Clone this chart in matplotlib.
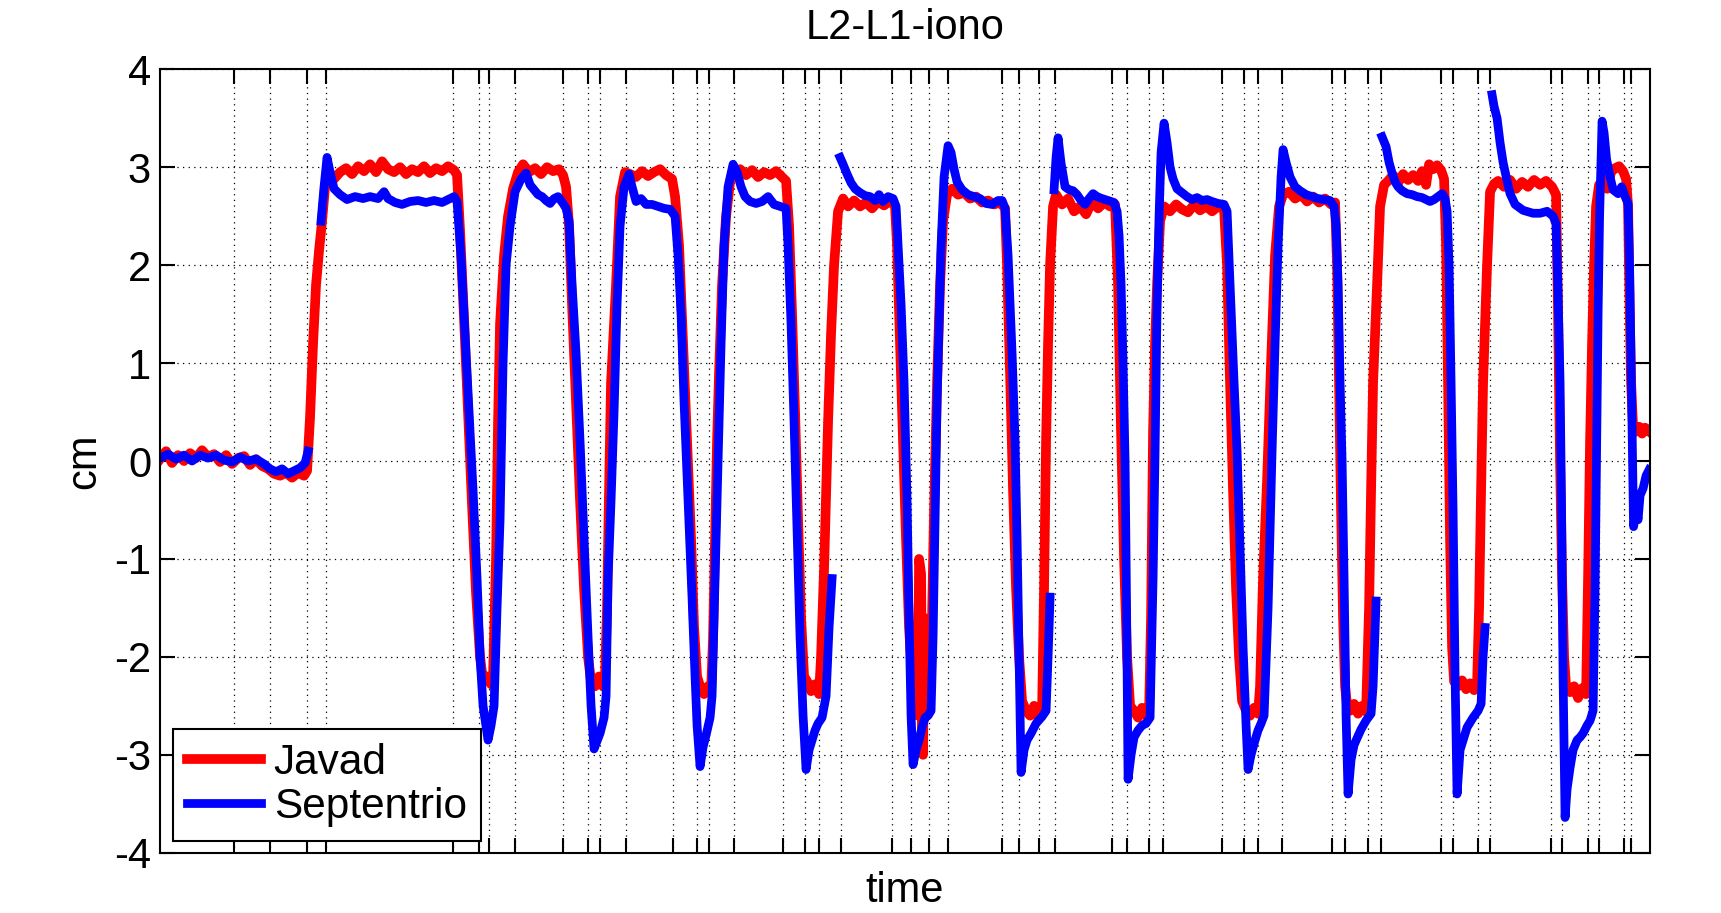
import numpy as np
import matplotlib
matplotlib.use("Agg")
import matplotlib.pyplot as plt

nan = np.nan

# instants where the antenna was moved (x ticks / vertical grid)
event_times = [74, 110, 147, 166, 293, 319, 329, 355, 403, 428, 440, 466,
               513, 537, 549, 574, 623, 645, 659, 681, 732, 751, 769, 788,
               842, 859, 879, 895, 952, 967, 989, 1003, 1062, 1084, 1098, 1122,
               1172, 1185, 1208, 1221, 1281, 1293, 1318, 1330, 1391, 1402, 1428, 1439,
               1464, 1471]

y_ticks = [-4, -3, -2, -1, 0, 1, 2, 3, 4]

# (time, cm)
javad = [
    (0, 0.02), (6, 0.10), (12, -0.02), (18, 0.06), (24, 0.0), (30, 0.08), (36, 0.03),
    (42, 0.11), (48, 0.04), (54, 0.07), (60, -0.01), (66, 0.06), (72, -0.03), (78, 0.03),
    (84, 0.05), (90, -0.04), (96, 0.02), (102, -0.05), (108, -0.08), (114, -0.13),
    (120, -0.15), (126, -0.12), (132, -0.17), (138, -0.12), (144, -0.15), (147, -0.1),
    (150, 0.45), (153, 1.2), (156, 1.8), (159, 2.15), (162, 2.45), (165, 2.8), (168, 2.97),
    (174, 2.88), (180, 2.95), (186, 2.99), (192, 2.93), (198, 3.01), (204, 2.96), (210, 3.03),
    (216, 2.95), (222, 3.06), (228, 2.98), (234, 2.95), (240, 3.0), (246, 2.93), (252, 2.98),
    (258, 2.95), (264, 3.01), (270, 2.94), (276, 2.99), (282, 2.96), (288, 3.01), (294, 2.97),
    (297, 2.92), (300, 2.35), (304, 1.45), (308, 0.5), (312, -0.45), (316, -1.35), (320, -2.0),
    (323, -2.25), (327, -2.2), (331, -2.28),
    (333, -2.2), (336, -1.0), (338, 0.4), (340, 1.4), (344, 2.1), (348, 2.5), (353, 2.78),
    (358, 2.95), (363, 3.03),
    (369, 2.95), (375, 2.99), (381, 2.93), (387, 3.0), (393, 2.96), (399, 2.98), (403, 2.92),
    (406, 2.8),
    (409, 2.4), (412, 1.6), (416, 0.6), (420, -0.4), (424, -1.3), (428, -2.0), (431, -2.25),
    (435, -2.3), (439, -2.2), (443, -2.3),
    (445, -2.2), (447, -1.5), (449, -0.3), (451, 0.8), (456, 1.8), (460, 2.7), (465, 2.95),
    (470, 2.93), (476, 2.9), (482, 2.96), (488, 2.91), (494, 2.95), (500, 2.98), (506, 2.92),
    (512, 2.88), (515, 2.7),
    (519, 2.2), (523, 1.2), (527, 0.2), (531, -0.8), (534, -1.7), (537, -2.2),
    (540, -2.3), (544, -2.38), (548, -2.3), (551, -2.36),
    (553, -1.8), (555, -0.8), (557, 0.2), (559, 0.9), (562, 1.8), (566, 2.5), (570, 2.85),
    (574, 2.95),
    (580, 2.98), (586, 2.92), (592, 2.97), (598, 2.9), (604, 2.95), (610, 2.92), (616, 2.96),
    (622, 2.9), (626, 2.86),
    (629, 2.4), (632, 1.5), (635, 0.5), (638, -0.6), (641, -1.6), (644, -2.2),
    (647, -2.25), (651, -2.35), (655, -2.28), (659, -2.38),
    (661, -2.0), (664, -1.1), (668, 0.4), (671, 1.3), (674, 2.0), (678, 2.55), (683, 2.68),
    (688, 2.6), (694, 2.66), (700, 2.6), (706, 2.64), (712, 2.58), (718, 2.65), (724, 2.61),
    (730, 2.66), (735, 2.6),
    (737, 2.2), (740, 1.2), (743, 0.2), (746, -0.8), (749, -1.7), (752, -2.2), (754, -2.4),
    (756, -2.45), (758, -2.6), (759, -1.0), (761, -1.15), (762, -2.9), (763, -3.0),
    (764, -1.6), (766, -2.4), (768, -2.5), (770, -2.35),
    (772, -1.6), (774, -0.5), (777, 0.8), (780, 1.8), (783, 2.45), (787, 2.72),
    (792, 2.78), (798, 2.72), (804, 2.74), (810, 2.68), (816, 2.7), (822, 2.64), (828, 2.66),
    (834, 2.62), (840, 2.64), (845, 2.58),
    (847, 2.0), (850, 0.9), (853, -0.3), (856, -1.3), (859, -2.0), (862, -2.45),
    (866, -2.55), (870, -2.6), (874, -2.5), (878, -2.62), (882, -2.55),
    (884, -1.3), (886, 0.2), (888, 1.2), (890, 2.0), (893, 2.6), (896, 2.72),
    (902, 2.62), (908, 2.68), (914, 2.55), (920, 2.6), (926, 2.52), (932, 2.65), (938, 2.58),
    (944, 2.64), (950, 2.6), (955, 2.62),
    (958, 1.8), (961, 0.3), (964, -1.0), (967, -2.0), (970, -2.5),
    (974, -2.55), (978, -2.62), (982, -2.52), (986, -2.6), (989, -2.55),
    (991, -1.6), (993, 0.3), (995, 1.2), (997, 1.8), (1000, 2.45), (1004, 2.6),
    (1010, 2.55), (1016, 2.62), (1022, 2.57), (1028, 2.54), (1034, 2.62), (1040, 2.56),
    (1046, 2.6), (1052, 2.55), (1058, 2.6), (1064, 2.57),
    (1067, 2.0), (1070, 0.8), (1073, -0.3), (1076, -1.3), (1079, -2.0), (1082, -2.45),
    (1086, -2.55), (1090, -2.6), (1094, -2.52), (1098, -2.58),
    (1100, -2.3), (1103, -1.2), (1107, -0.2), (1111, 1.0), (1115, 2.1), (1119, 2.6),
    (1123, 2.72),
    (1129, 2.75), (1135, 2.68), (1141, 2.72), (1147, 2.65), (1153, 2.7), (1159, 2.64),
    (1165, 2.68), (1171, 2.62), (1175, 2.64),
    (1177, 2.0), (1179, 0.8), (1181, -0.5), (1183, -1.6), (1185, -2.3), (1187, -2.5),
    (1190, -2.55), (1194, -2.48), (1198, -2.58), (1202, -2.5), (1206, -2.56),
    (1209, -1.5), (1211, -0.3), (1213, 0.8), (1217, 1.8), (1220, 2.6), (1224, 2.82),
    (1228, 2.86), (1233, 2.92), (1238, 2.84), (1243, 2.93), (1248, 2.87), (1253, 2.92),
    (1258, 2.86), (1262, 2.96), (1266, 2.82), (1269, 3.03), (1273, 2.98), (1277, 3.02),
    (1281, 2.97), (1284, 2.88),
    (1286, 2.2), (1288, 0.8), (1290, -0.8), (1292, -1.9), (1294, -2.25),
    (1298, -2.3), (1302, -2.24), (1306, -2.33), (1310, -2.27), (1314, -2.34), (1317, -2.28),
    (1319, -1.5), (1321, -0.3), (1323, 0.8), (1327, 2.0), (1330, 2.75), (1334, 2.83),
    (1338, 2.86), (1344, 2.8), (1350, 2.87), (1356, 2.78), (1362, 2.85), (1368, 2.8),
    (1374, 2.87), (1380, 2.82), (1386, 2.86), (1392, 2.8), (1396, 2.72),
    (1398, 1.5), (1400, 0.0), (1402, -1.2), (1404, -2.0), (1406, -2.3),
    (1410, -2.36), (1414, -2.3), (1418, -2.42), (1422, -2.32), (1426, -2.38),
    (1428, -1.2), (1430, 0.2), (1432, 1.2), (1434, 2.0), (1436, 2.6), (1439, 2.82),
    (1443, 2.86), (1447, 2.78), (1451, 2.95), (1455, 2.99), (1459, 3.01), (1463, 2.96),
    (1466, 2.88),
    (1468, 2.6), (1469.5, 1.6), (1471, 0.8), (1473, 0.35), (1476, 0.3), (1479, 0.35),
    (1482, 0.28), (1485, 0.34), (1489.5, 0.3),
]

septentrio = [
    (0, 0.03), (8, 0.07), (16, 0.02), (24, 0.06), (32, 0.0), (40, 0.06), (48, 0.03),
    (56, 0.06), (64, 0.01), (72, -0.01), (80, 0.04), (88, 0.0), (96, 0.02), (104, -0.03),
    (110, -0.08), (116, -0.11), (122, -0.08), (128, -0.13), (134, -0.1), (140, -0.07),
    (145, -0.02), (148, 0.1), (nan, nan),
    (161, 2.45), (164, 2.8), (167, 3.1), (170, 2.95), (174, 2.78), (180, 2.72), (187, 2.67),
    (195, 2.7), (203, 2.68), (210, 2.7), (218, 2.68), (224, 2.75), (228, 2.68), (235, 2.64),
    (242, 2.62), (250, 2.65), (258, 2.66), (266, 2.64), (274, 2.66), (282, 2.64), (290, 2.68),
    (294, 2.7),
    (297, 2.65), (301, 2.08), (305, 1.3), (309, 0.5), (313, -0.3), (317, -1.2), (320, -2.0),
    (323, -2.5), (328, -2.85), (331, -2.7), (334, -2.5),
    (337, -1.5), (340, -0.6), (343, 1.0), (346, 2.0), (350, 2.4), (355, 2.75), (361, 2.88),
    (366, 2.94),
    (370, 2.82), (374, 2.77), (378, 2.72), (382, 2.7), (386, 2.66), (390, 2.63), (394, 2.68),
    (398, 2.7), (403, 2.63), (406, 2.58), (409, 2.45),
    (412, 1.8), (416, 1.1), (420, 0.2), (424, -0.8), (428, -1.8), (431, -2.5), (434, -2.94),
    (437, -2.86), (440, -2.78), (444, -2.62), (446, -2.4),
    (448, -1.2), (451, -0.4), (454, 0.5), (457, 1.6), (460, 2.4), (464, 2.8), (469, 2.93),
    (472, 2.8), (476, 2.65), (481, 2.68), (486, 2.62), (492, 2.62), (498, 2.6), (504, 2.58),
    (510, 2.57), (515, 2.5),
    (518, 2.1), (521, 1.5), (524, 0.6), (528, -0.4), (532, -1.4), (535, -2.2), (537, -2.7),
    (540, -3.12), (543, -2.92), (546, -2.8), (550, -2.62), (552, -2.4),
    (555, -1.2), (558, 0.0), (561, 1.2), (564, 2.2), (568, 2.8), (573, 3.03),
    (577, 2.95), (581, 2.8), (585, 2.7), (590, 2.65), (596, 2.63), (602, 2.65), (608, 2.7),
    (614, 2.62), (620, 2.6), (626, 2.58),
    (628, 2.2), (631, 1.4), (634, 0.4), (637, -0.7), (640, -1.8), (643, -2.6), (646, -3.15),
    (649, -2.95), (652, -2.85), (655, -2.75), (658, -2.68), (662, -2.62), (666, -2.4),
    (669, -1.7), (672, -1.2), (nan, nan),
    (680, 3.1), (683, 3.03), (687, 2.93), (691, 2.84), (695, 2.78), (700, 2.74), (705, 2.71),
    (710, 2.7), (715, 2.66), (719, 2.72), (723, 2.65), (728, 2.7), (733, 2.68), (736, 2.6),
    (738, 2.2), (741, 1.6), (744, 0.8), (747, -0.4), (749, -1.6), (751, -2.6), (753, -3.1),
    (756, -2.95), (759, -2.85), (762, -2.72), (765, -2.62), (768, -2.6), (771, -2.55),
    (773, -1.8), (775, -0.6), (777, 0.6), (779, 1.4), (781, 2.2), (784, 2.9), (788, 3.22),
    (791, 3.15), (794, 2.98), (797, 2.85), (802, 2.77), (808, 2.72), (814, 2.7), (820, 2.68),
    (826, 2.63), (832, 2.62), (838, 2.66), (842, 2.66), (845, 2.58),
    (848, 2.1), (852, 1.1), (855, 0.2), (857, -0.8), (859, -2.0), (861, -3.18),
    (864, -2.95), (867, -2.85), (871, -2.78), (876, -2.68), (882, -2.61), (886, -2.55),
    (888, -2.0), (890, -1.39), (nan, nan),
    (894, 2.77), (896, 3.1), (898, 3.3), (901, 3.04), (905, 2.8), (909, 2.77), (913, 2.76),
    (917, 2.72), (921, 2.66), (925, 2.62), (929, 2.68), (933, 2.73), (937, 2.7), (942, 2.68),
    (948, 2.66), (954, 2.64), (957, 2.55),
    (959, 2.3), (961, 1.8), (963, 1.0), (965, 0.0), (966.5, -1.5), (968, -3.25),
    (971, -3.0), (974, -2.82), (978, -2.75), (982, -2.7), (986, -2.68), (990, -2.62),
    (993, -1.2), (995, 0.1), (997, 1.6), (999, 2.5), (1001, 3.15), (1004, 3.45),
    (1007, 3.25), (1010, 3.0), (1013, 2.88), (1017, 2.78), (1022, 2.74), (1027, 2.7),
    (1032, 2.67), (1037, 2.69), (1042, 2.66), (1047, 2.67), (1052, 2.65), (1058, 2.63),
    (1064, 2.62), (1067, 2.55),
    (1070, 1.8), (1074, 0.8), (1077, 0.1), (1080, -0.9), (1083, -1.9), (1086, -2.7),
    (1088, -3.15), (1091, -3.0), (1095, -2.85), (1098, -2.75), (1101, -2.68), (1104, -2.6),
    (1108, -1.5), (1112, 0.1), (1115, 1.2), (1118, 2.2), (1121, 2.9), (1123, 3.18),
    (1126, 3.05), (1130, 2.9), (1135, 2.8), (1140, 2.76), (1146, 2.72), (1152, 2.7),
    (1158, 2.68), (1164, 2.67), (1170, 2.66), (1174, 2.6),
    (1176, 2.4), (1178, 1.8), (1180, 0.8), (1182, 0.0), (1184, -1.2), (1186, -2.6),
    (1188, -3.4), (1191, -3.05), (1194, -2.9), (1197, -2.83), (1201, -2.74), (1206, -2.65),
    (1211, -2.58), (1213, -2.3), (1216, -1.43), (nan, nan),
    (1222, 3.31), (1226, 3.21), (1229, 3.05), (1232, 2.94), (1235, 2.85), (1238, 2.8),
    (1242, 2.76), (1247, 2.73), (1252, 2.72), (1257, 2.7), (1262, 2.69), (1266, 2.67),
    (1270, 2.65), (1274, 2.67), (1278, 2.7), (1282, 2.73), (1285, 2.68), (1287, 2.55),
    (1289, 2.0), (1291, 0.8), (1293, -0.5), (1295, -2.2), (1297, -3.4), (1300, -2.95),
    (1303, -2.85), (1307, -2.72), (1313, -2.62), (1318, -2.55), (1321, -2.48), (1323, -2.0),
    (1325, -1.7), (nan, nan),
    (1332, 3.74), (1334, 3.62), (1337, 3.5), (1340, 3.25), (1343, 3.05), (1347, 2.86),
    (1350, 2.73), (1355, 2.62), (1363, 2.56), (1373, 2.53), (1380, 2.53), (1387, 2.55),
    (1393, 2.5), (1396, 2.42),
    (1398, 1.7), (1400, 0.8), (1401.5, -0.5), (1403, -2.2), (1405, -3.64), (1407, -3.35),
    (1410, -3.13), (1413, -2.95), (1417, -2.85), (1420, -2.82), (1423, -2.78), (1427, -2.7),
    (1430, -2.65), (1433, -2.55),
    (1435, -1.3), (1436.5, 0.1), (1438, 1.5), (1439.5, 2.5), (1442, 3.47),
    (1444, 3.35), (1446.5, 3.08), (1450, 2.9), (1453, 2.77), (1458, 2.73), (1461.5, 2.8),
    (1465, 2.7), (1468, 2.63),
    (1469.5, 2.0), (1471, 1.0), (1472.5, 0.0), (1473.5, -0.67), (1476, -0.5), (1478, -0.6),
    (1480, -0.35), (1483, -0.28), (1486, -0.15), (1489, -0.09),
]

plt.rcParams['font.family'] = ['Liberation Sans', 'DejaVu Sans']
plt.rcParams['font.size'] = 30
plt.rcParams['axes.unicode_minus'] = False

fig = plt.figure(figsize=(17.21, 9.13), dpi=100)
ax = fig.add_axes([0.0930, 0.0660, 0.8655, 0.8581])

jt, jv = np.array(javad).T
st, sv = np.array(septentrio).T
ax.plot(jt, jv, color=(1, 0, 0), lw=7, label="Javad")
ax.plot(st, sv, color=(0, 0, 1), lw=6.3, label="Septentrio")

ax.set_xlim(0, 1489.5)
ax.set_ylim(-4, 4)
ax.set_xticks(event_times)
ax.set_yticks(y_ticks)
ax.tick_params(direction="in", length=11, width=1.5, top=True, right=True,
               labelbottom=False, labelsize=30, pad=6.5)
ax.grid(True, color="k", linestyle=(0, (1, 3.5)), linewidth=0.9)
for s in ax.spines.values():
    s.set_linewidth(1.5)

ax.set_title("L2-L1-iono", fontsize=30, pad=22)
ax.set_xlabel("time", fontsize=30, labelpad=13)
ax.set_ylabel("cm", fontsize=30, labelpad=7)

leg = ax.legend(loc="lower left", bbox_to_anchor=(0.0087, 0.0149), borderaxespad=0,
                fancybox=False, edgecolor="k", framealpha=1, fontsize=30.5,
                handlelength=1.75, handletextpad=0.3, borderpad=0.33, labelspacing=0.1)
leg.get_frame().set_linewidth(1.5)

fig.savefig("out.png", dpi=100)
